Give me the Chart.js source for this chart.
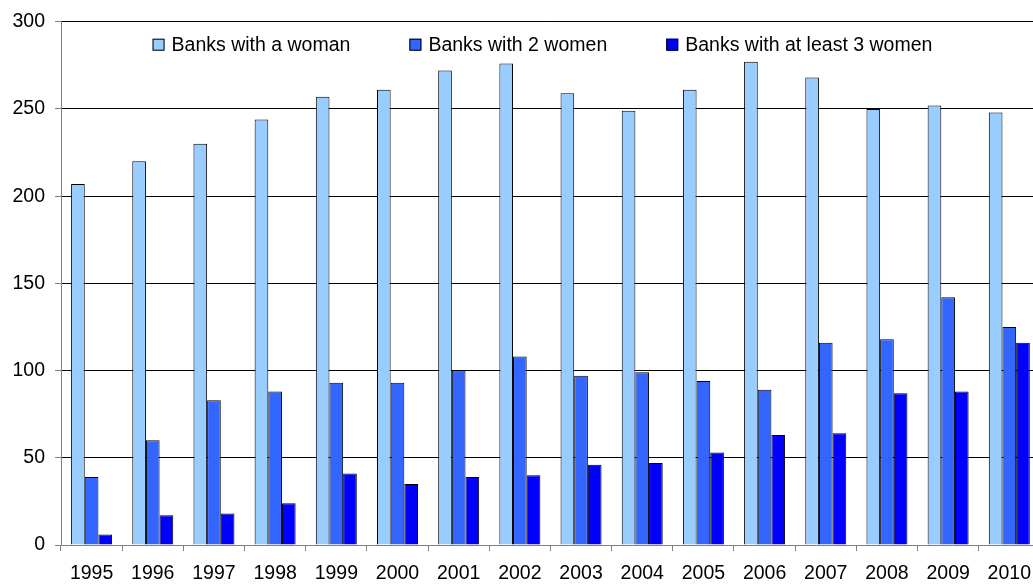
<!DOCTYPE html>
<html>
<head>
<meta charset="utf-8">
<script src="https://cdn.jsdelivr.net/npm/chart.js@4.4.1/dist/chart.umd.min.js"></script>
<style>
  html, body { margin: 0; padding: 0; background: #ffffff; overflow: hidden; }
  #wrap { width: 1042px; height: 585px; }
</style>
</head>
<body>
<div id="wrap"><canvas id="c" width="1042" height="585"></canvas></div>
<script>
const years = ['1995','1996','1997','1998','1999','2000','2001','2002','2003','2004','2005','2006','2007','2008','2009','2010'];
const oneWoman = [207, 220, 230, 244, 257, 261, 272, 276, 259, 249, 261, 277, 268, 250, 252, 248];
const twoWomen = [39, 60, 83, 88, 93, 93, 100, 108, 97, 99, 94, 89, 116, 118, 142, 125];
const threePlus = [6, 17, 18, 24, 41, 35, 39, 40, 46, 47, 53, 63, 64, 87, 88, 116];
const seriesNames = ['Banks with a woman', 'Banks with 2 women', 'Banks with at least 3 women'];
const yTicks = [0, 50, 100, 150, 200, 250, 300];

const FONT_FAMILY = '"Liberation Sans", Arial, sans-serif';
const FONT = { family: FONT_FAMILY, size: 19.5 };

// Legend drawn inside the plot area, in one row near the top
const insideLegend = {
  id: 'insideLegend',
  afterDatasetsDraw(chart) {
    const ctx = chart.ctx;
    const area = chart.chartArea;
    const box = 12, boxGap = 7, itemGap = 59;
    ctx.save();
    ctx.font = FONT.size + 'px ' + FONT_FAMILY;
    ctx.textBaseline = 'middle';
    ctx.textAlign = 'left';
    const items = chart.data.datasets.map(ds => ({
      text: ds.label,
      color: ds.backgroundColor,
      w: box + boxGap + ctx.measureText(ds.label).width
    }));
    const total = items.reduce((a, it) => a + it.w, 0) + itemGap * (items.length - 1);
    let x = (area.left + area.right) / 2 - total / 2 - 8;
    const cy = area.top + 23;
    items.forEach(it => {
      ctx.fillStyle = it.color;
      ctx.fillRect(x, cy - box / 2, box, box);
      ctx.strokeStyle = '#000000';
      ctx.lineWidth = 1;
      ctx.strokeRect(x + 0.5, cy - box / 2 + 0.5, box - 1, box - 1);
      ctx.fillStyle = '#000000';
      ctx.fillText(it.text, x + box + boxGap, cy + 1);
      x += it.w + itemGap;
    });
    ctx.restore();
  }
};

new Chart(document.getElementById('c'), {
  type: 'bar',
  data: {
    labels: years,
    datasets: [
      { label: seriesNames[0], data: oneWoman, backgroundColor: '#99CCFF' },
      { label: seriesNames[1], data: twoWomen, backgroundColor: '#3366FF' },
      { label: seriesNames[2], data: threePlus, backgroundColor: '#0000FF' }
    ]
  },
  options: {
    responsive: false,
    animation: false,
    devicePixelRatio: 1,
    layout: { padding: { top: 20, left: 0, right: 0, bottom: 0 } },
    datasets: {
      bar: {
        borderColor: '#000000',
        borderWidth: 1,
        categoryPercentage: 0.67,
        barPercentage: 1.0
      }
    },
    plugins: {
      legend: { display: false },
      tooltip: { enabled: false },
      title: { display: false }
    },
    scales: {
      x: {
        offset: true,
        grid: {
          display: true,
          drawOnChartArea: false,
          drawTicks: true,
          tickLength: 6,
          tickColor: '#808080',
          offset: true
        },
        border: { display: true, color: '#808080', width: 1 },
        ticks: { font: FONT, color: '#000000', padding: 11, maxRotation: 0, autoSkip: false },
        afterFit(s) { s.height = 40; }
      },
      y: {
        min: 0,
        max: 300,
        afterBuildTicks(s) { s.ticks = yTicks.map(v => ({ value: v })); },
        grid: {
          color: '#000000',
          lineWidth: 1,
          drawTicks: true,
          tickLength: 6,
          tickColor: '#808080'
        },
        border: { display: true, color: '#808080', width: 1 },
        ticks: { font: FONT, color: '#000000', padding: 10 },
        afterFit(s) { s.width = 61; }
      }
    }
  },
  plugins: [insideLegend]
});
</script>
</body>
</html>
